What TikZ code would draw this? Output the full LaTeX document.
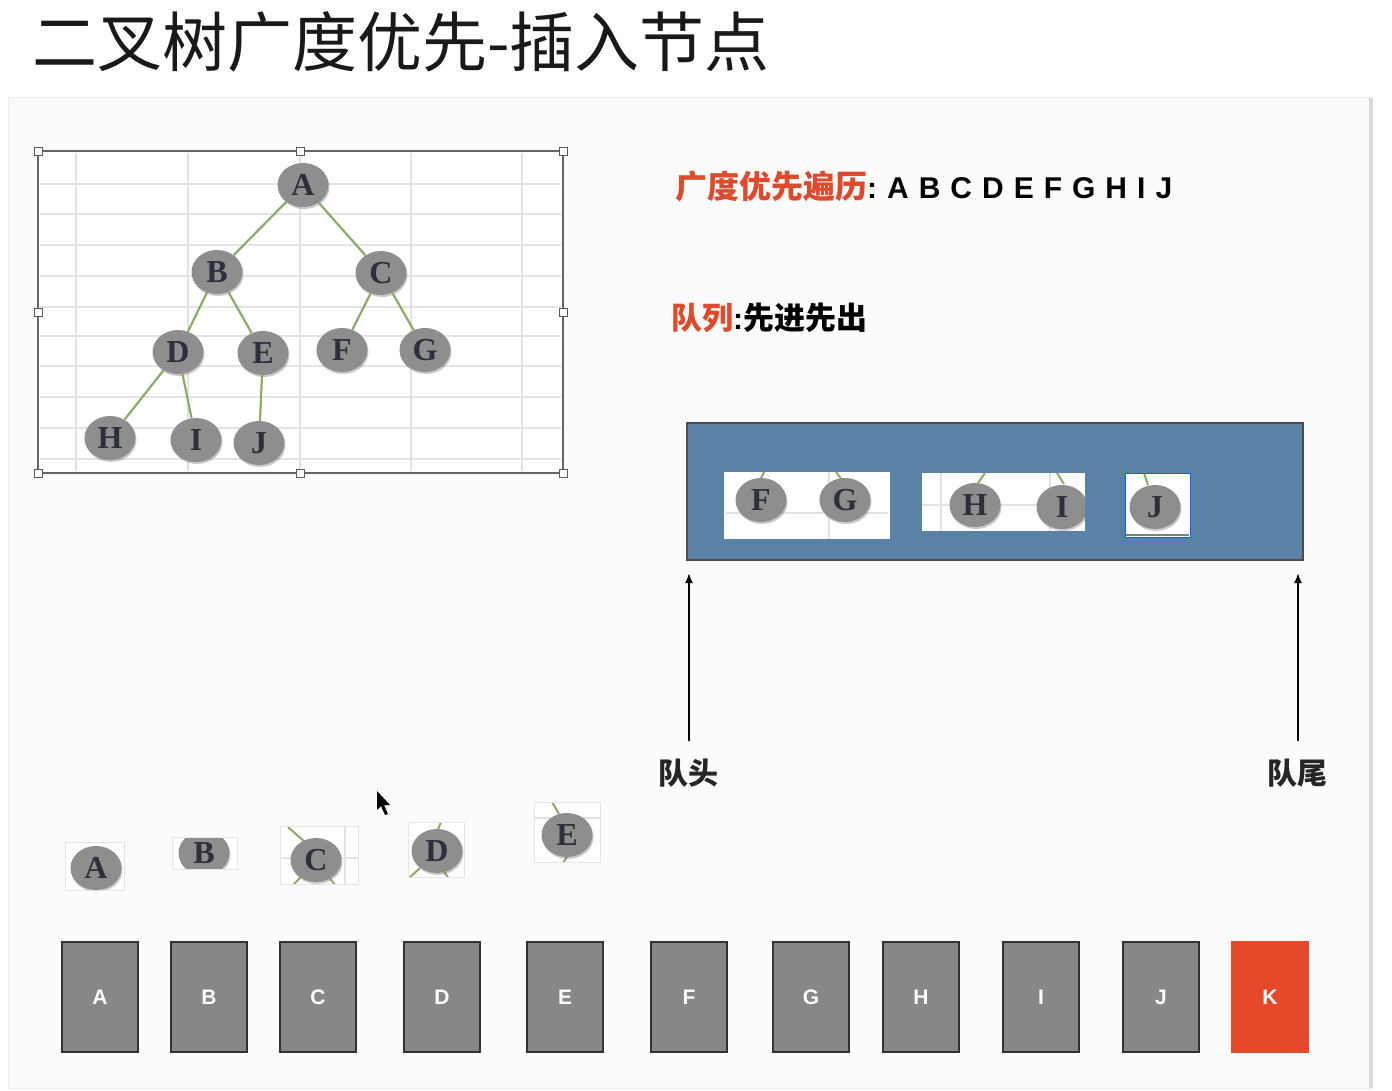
\documentclass[tikz,border=0pt]{standalone}
\usepackage{fontspec}
\setmainfont{Liberation Serif}
\newfontfamily\cjk{Noto Sans CJK SC}
\newfontfamily\lsans{Liberation Sans}
\usetikzlibrary{shapes.geometric,arrows.meta,shadows}
\definecolor{accred}{HTML}{DE4A2C}
\definecolor{kred}{HTML}{E5492A}
\definecolor{qblue}{HTML}{5A82A6}
\definecolor{boxgray}{HTML}{878787}
\definecolor{nodegray}{HTML}{8E8E8E}
\definecolor{nodetext}{HTML}{2C303B}
\definecolor{edgegreen}{HTML}{8DAA68}
\definecolor{gridgray}{HTML}{E3E3E3}
\definecolor{panelgray}{HTML}{FBFBFB}
\newcommand\snipbox[8]{%
  \begin{scope}
    \clip (#2,#3) rectangle (#4,#5);
    \node[tnode] (#1) at (#6,#7) {#8};
  \end{scope}}
\begin{document}
\begin{tikzpicture}[x=1pt,y=-1pt,
  panel/.style={fill=panelgray,draw=gray!15,line width=1pt},
  gridline/.style={draw=gridgray,line width=1.6pt},
  faintline/.style={draw=gridgray,line width=1.2pt},
  tboxborder/.style={draw=gray!80!black,line width=1.8pt},
  handle/.style={draw=gray!70!black,fill=white,line width=0.8pt,minimum size=8pt,inner sep=0pt,outer sep=0pt},
  tnode/.style={ellipse,fill=nodegray,minimum width=51pt,minimum height=44pt,inner sep=0pt,
    text=nodetext,font=\bfseries\fontsize{32}{32}\selectfont,
    drop shadow={shadow xshift=1pt,shadow yshift=-2pt,opacity=0.35,fill=black!60}},
  tedge/.style={draw=edgegreen,line width=2.2pt},
  stub/.style={draw=edgegreen,line width=2pt},
  snipborder/.style={draw=gray!20,line width=0.8pt},
  arrbox/.style={rectangle,fill=boxgray,draw=black!80,line width=2.4pt,minimum width=76pt,minimum height=110pt,
    inner sep=0pt,text=white,font=\lsans\bfseries\fontsize{21}{21}\selectfont},
  kbox/.style={arrbox,fill=kred,draw=kred},
  qarrow/.style={draw=black,line width=1.8pt,-{Latex[length=10pt,width=8pt]}},
  cnlabel/.style={font=\cjk\bfseries\fontsize{30}{30}\selectfont,text=black!85}
]
\useasboundingbox (0,0) rectangle (1392,1091);
\fill[white] (0,0) rectangle (1392,1091);
\draw[panel] (8,98) rectangle (1371,1088);
\fill[gray!30] (1369,98) rectangle (1373,1088);

% title
\node[anchor=west,inner sep=0pt,font=\cjk\fontsize{65}{65}\selectfont,text=black!90] (title) at (32,42) {二叉树广度优先-插入节点};

% tree picture
\fill[white] (38,151) rectangle (563,473);
\foreach \gx in {76,188,300,411,522} \draw[gridline] (\gx,153) -- (\gx,471);
\foreach \gy in {184,214,245,276,307,336,366,397,428,459} \draw[gridline] (40,\gy) -- (561,\gy);
\draw[tboxborder] (38,151) rectangle (563,473);

\node[tnode] (tA) at (303,185) {A};
\node[tnode] (tB) at (217,272) {B};
\node[tnode] (tC) at (381,273) {C};
\node[tnode] (tD) at (178,352) {D};
\node[tnode] (tE) at (263,353) {E};
\node[tnode] (tF) at (342,350) {F};
\node[tnode] (tG) at (425,350) {G};
\node[tnode] (tH) at (110,438) {H};
\node[tnode] (tI) at (196,440) {I};
\node[tnode] (tJ) at (259,443) {J};
\draw[tedge] (tA) -- (tB);
\draw[tedge] (tA) -- (tC);
\draw[tedge] (tB) -- (tD);
\draw[tedge] (tB) -- (tE);
\draw[tedge] (tC) -- (tF);
\draw[tedge] (tC) -- (tG);
\draw[tedge] (tD) -- (tH);
\draw[tedge] (tD) -- (tI);
\draw[tedge] (tE) -- (tJ);

\foreach \hx/\hy [count=\hi] in {38/151,300/151,563/151,38/312,563/312,38/473,300/473,563/473}
  \node[handle] (hd\hi) at (\hx,\hy) {};

% texts on the right
\node[anchor=west,inner sep=0pt] (bfs) at (675,186)
  {{\cjk\bfseries\fontsize{32}{32}\selectfont\color{accred}广度优先遍历}{\lsans\bfseries\fontsize{30}{30}\selectfont :\hspace{10pt}A\hspace{10pt}B\hspace{10pt}C\hspace{10pt}D\hspace{10pt}E\hspace{10pt}F\hspace{10pt}G\hspace{10pt}H\hspace{10pt}I\hspace{10pt}J}};
\node[anchor=west,inner sep=0pt] (fifo) at (671,318)
  {{\cjk\bfseries\fontsize{31}{31}\selectfont\color{accred}队列}{\lsans\bfseries\fontsize{30}{30}\selectfont :}{\cjk\bfseries\fontsize{31}{31}\selectfont 先进先出}};

% queue
\node[rectangle,anchor=north west,fill=qblue,draw=black!70,line width=1.6pt,minimum width=616pt,minimum height=137pt,inner sep=0pt] (queue) at (686,422) {};

\fill[white] (724,472) rectangle (890,539);
\draw[faintline] (726,513) -- (888,513);
\draw[faintline] (829,472) -- (829,539);
\draw[stub] (764,472) -- (760,480);
\draw[stub] (836,472) -- (842,480);
\snipbox{qF}{724}{472}{890}{539}{761}{500}{F}
\snipbox{qG}{724}{472}{890}{539}{845}{500}{G}

\fill[white] (922,473) rectangle (1085,531);
\draw[faintline] (922,505) -- (1085,505);
\draw[faintline] (941,473) -- (941,531);
\draw[faintline] (1050,473) -- (1050,531);
\draw[stub] (985,473) -- (978,483);
\draw[stub] (1057,473) -- (1064,484);
\snipbox{qH}{922}{473}{1085}{531}{975}{505}{H}
\snipbox{qI}{922}{473}{1085}{531}{1062}{507}{I}

\fill[white] (1125,473) rectangle (1190,537);
\draw[stub] (1144,473) -- (1148,485);
\snipbox{qJ}{1125}{473}{1190}{537}{1155}{507}{J}
\draw[gray,line width=1.4pt] (1126,535) -- (1189,535);
\draw[draw=blue!60!cyan,line width=0.8pt] (1125,473) rectangle (1190,537);

% arrows and labels
\node[cnlabel] (headlbl) at (688,773) {队头};
\node[cnlabel] (taillbl) at (1297,773) {队尾};
\coordinate (headbot) at (689,741);
\coordinate (headtop) at (689,573);
\coordinate (tailbot) at (1298,741);
\coordinate (tailtop) at (1298,573);
\draw[qarrow] (headbot) -- (headtop);
\draw[qarrow] (tailbot) -- (tailtop);

% dequeued snippets
\fill[white] (65,842) rectangle (124,890);
\snipbox{sA}{65}{842}{124}{890}{96}{868}{A}
\draw[snipborder] (65,842) rectangle (124,890);

\fill[white] (172,837) rectangle (237,869);
\snipbox{sB}{172}{837}{237}{869}{204}{853}{B}
\draw[snipborder] (172,837) rectangle (237,869);

\begin{scope}
  \clip (280,826) rectangle (358,884);
  \fill[white] (280,826) rectangle (358,884);
  \draw[faintline] (280,858) -- (358,858);
  \draw[faintline] (345,826) -- (345,884);
  \draw[stub] (288,827) -- (306,843);
  \draw[stub] (302,876) -- (292,886);
  \draw[stub] (328,876) -- (336,886);
\end{scope}
\snipbox{sC}{280}{826}{358}{884}{316}{860}{C}
\draw[snipborder] (280,826) rectangle (358,884);

\begin{scope}
  \clip (408,822) rectangle (464,877);
  \fill[white] (408,822) rectangle (464,877);
  \draw[stub] (441,822) -- (437,832);
  \draw[stub] (420,868) -- (408,879);
  \draw[stub] (443,870) -- (449,879);
\end{scope}
\snipbox{sD}{408}{822}{464}{877}{437}{851}{D}
\draw[snipborder] (408,822) rectangle (464,877);

\begin{scope}
  \clip (534,802) rectangle (600,862);
  \fill[white] (534,802) rectangle (600,862);
  \draw[faintline] (534,818) -- (600,818);
  \draw[stub] (552,802) -- (559,814);
  \draw[stub] (568,855) -- (563,863);
\end{scope}
\snipbox{sE}{534}{802}{600}{862}{567}{835}{E}
\draw[snipborder] (534,802) rectangle (600,862);

% mouse cursor
\fill[black] (377,791) -- (377,810) -- (381,806) -- (385,815) -- (388,814) -- (384,805) -- (390,805) -- cycle;

% array boxes
\node[arrbox] (bA) at (100,997) {A};
\node[arrbox] (bB) at (209,997) {B};
\node[arrbox] (bC) at (318,997) {C};
\node[arrbox] (bD) at (442,997) {D};
\node[arrbox] (bE) at (565,997) {E};
\node[arrbox] (bF) at (689,997) {F};
\node[arrbox] (bG) at (811,997) {G};
\node[arrbox] (bH) at (921,997) {H};
\node[arrbox] (bI) at (1041,997) {I};
\node[arrbox] (bJ) at (1161,997) {J};
\node[kbox] (bK) at (1270,997) {K};
\end{tikzpicture}
\end{document}
